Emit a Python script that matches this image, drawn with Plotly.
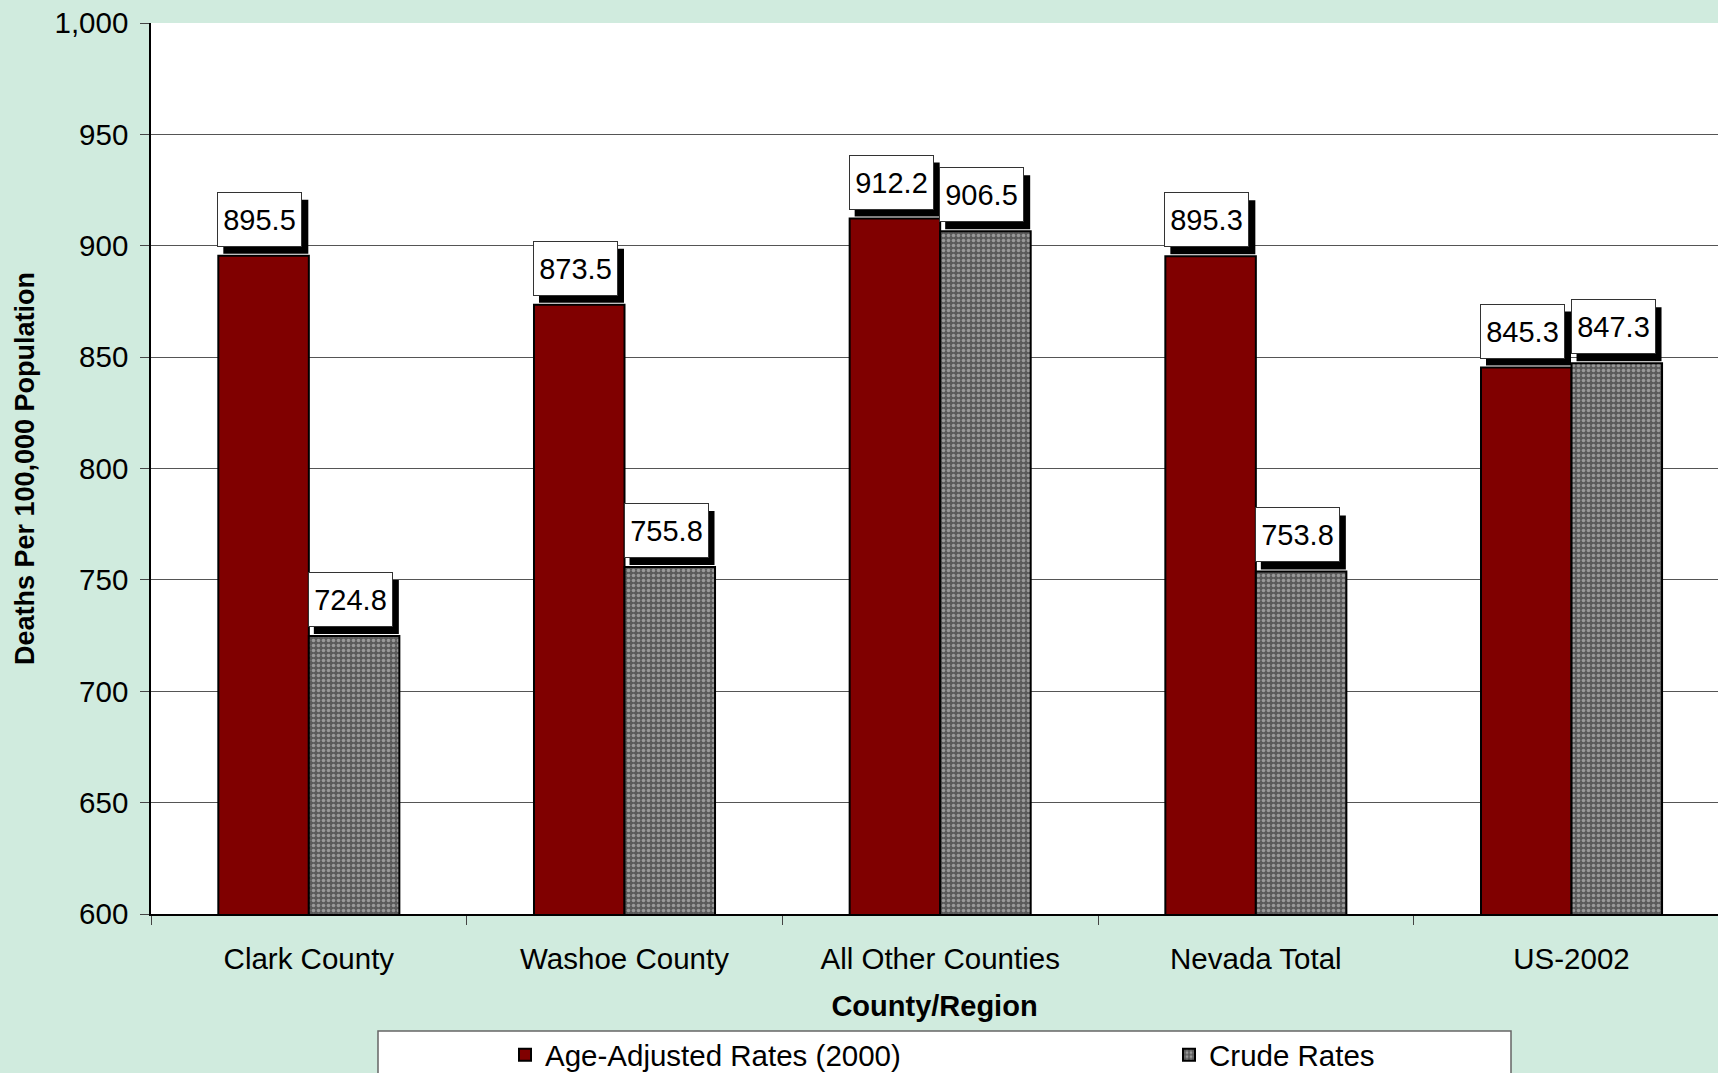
import plotly.graph_objects as go

categories = ["Clark County", "Washoe County", "All Other Counties", "Nevada Total", "US-2002"]
age_adjusted = [895.5, 873.5, 912.2, 895.3, 845.3]
crude = [724.8, 755.8, 906.5, 753.8, 847.3]
series_names = ["Age-Adjusted Rates (2000)", "Crude Rates"]
y_ticks = [600, 650, 700, 750, 800, 850, 900, 950, 1000]

FONT = "Liberation Sans, Arial, sans-serif"
BG = "#D0EBDE"
W, H = 1718, 1073
ML, MR, MT, MB = 151, 0, 23, 159
PW, PH = W - ML - MR, H - MT - MB
BARGAP = 0.4265
half = (1 - BARGAP) / 2  # width of one bar in category units


def px_to_paper_y(py):
    return (H - MB - py) / PH


def px_to_paper_x(px):
    return (px - ML) / PW


fig = go.Figure()
fig.add_trace(go.Bar(
    x=categories, y=age_adjusted, name=series_names[0], legend="legend",
    marker=dict(color="#800000", line=dict(color="black", width=2)),
))
fig.add_trace(go.Bar(
    x=categories, y=crude, name=series_names[1], legend="legend2",
    marker=dict(color="#7f7f7f", line=dict(color="black", width=2),
                pattern=dict(shape=".", fgcolor="#d8d8d8", bgcolor="#5a5a5a",
                             size=5, solidity=0.4, fillmode="overlay")),
))

# data labels: white boxes with a black drop shadow
boxes = []
shadows = []
for i, (a, c) in enumerate(zip(age_adjusted, crude)):
    for left, v in ((i - half, a), (i, c)):
        boxes.append(dict(x=left, y=v, xref="x", yref="y", xanchor="left", yanchor="bottom",
                          showarrow=False, text=f"{v:.1f}", width=75, height=45,
                          borderpad=4, borderwidth=1, bgcolor="white", bordercolor="#333333",
                          font=dict(family=FONT, size=29, color="black"),
                          xshift=-1, yshift=9))
        shadows.append(dict(type="rect", xref="x", yref="y",
                            xsizemode="pixel", ysizemode="pixel",
                            xanchor=left, yanchor=v,
                            x0=5, x1=90, y0=2, y1=56,
                            fillcolor="black", line=dict(width=0), layer="above"))

leg_common = dict(orientation="h", xref="container", yref="container",
                  xanchor="left", yanchor="top", bgcolor="rgba(0,0,0,0)", borderwidth=0,
                  font=dict(family=FONT, size=29.5, color="black"))

legend_box = dict(type="rect", xref="paper", yref="paper",
                  x0=px_to_paper_x(378), x1=px_to_paper_x(1511),
                  y0=px_to_paper_y(1031), y1=px_to_paper_y(1095),
                  fillcolor="white", line=dict(color="#666666", width=1.5), layer="below")

fig.update_layout(
    width=W, height=H,
    paper_bgcolor=BG, plot_bgcolor="white",
    margin=dict(l=ML, r=MR, t=MT, b=MB, autoexpand=False),
    barmode="group", bargap=BARGAP, bargroupgap=0,
    font=dict(family=FONT, size=29.5, color="black"),
    showlegend=True,
    legend=dict(leg_common, x=505 / W, y=1 - 1029 / H),
    legend2=dict(leg_common, x=1169 / W, y=1 - 1029 / H),
    annotations=boxes,
    shapes=[legend_box] + shadows,
    xaxis=dict(
        range=[-0.5, 4.464], showline=True, linecolor="black", linewidth=1.5,
        ticks="outside", tickson="boundaries", ticklen=9, tickcolor="#444444",
        tickfont=dict(family=FONT, size=29.5), ticklabelstandoff=18,
        title=dict(text="<b>County/Region</b>", font=dict(family=FONT, size=29), standoff=22),
        showgrid=False,
    ),
    yaxis=dict(
        range=[600, 1000], tickvals=y_ticks, tickformat=",d",
        showline=True, linecolor="black", linewidth=1.5,
        ticks="outside", ticklen=9, tickcolor="#444444",
        tickfont=dict(family=FONT, size=29.5), ticklabelstandoff=6,
        showgrid=True, gridcolor="#555555", gridwidth=1,
        title=dict(text="<b>Deaths Per 100,000 Population</b>", font=dict(family=FONT, size=27),
                   standoff=12),
        zeroline=False,
    ),
)

fig.write_html("out.html", config={"displayModeBar": False},
               post_script="document.body.style.margin='0';document.body.style.overflow='hidden';")
